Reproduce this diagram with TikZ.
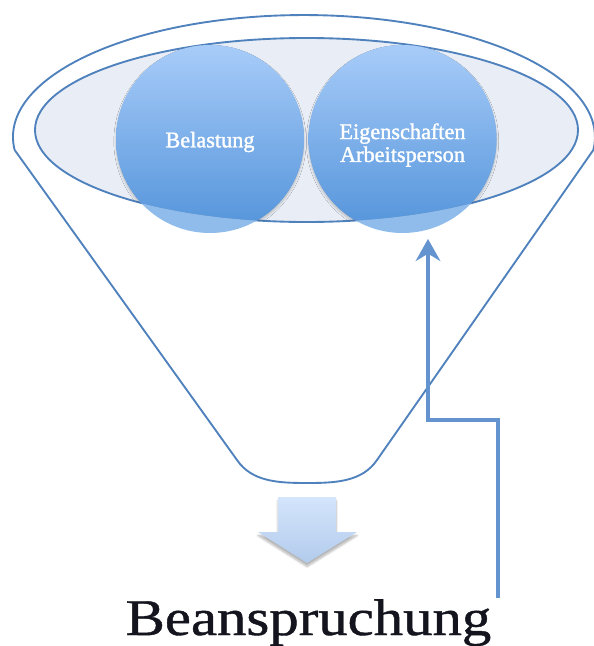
\documentclass[tikz,border=0pt]{standalone}
\usepackage{fontspec}
\setmainfont{Liberation Serif}
\newfontfamily\ballserif{Liberation Serif}[BoldFont={Liberation Serif}, BoldFeatures={FakeBold=1.5}]
\newfontfamily\resultserif{Liberation Serif}[BoldFont={Liberation Serif}, BoldFeatures={FakeBold=0.8}]
\usetikzlibrary{arrows.meta,shadows.blur}

\definecolor{funnelline}{RGB}{79,129,189}
\definecolor{rimfill}{RGB}{233,238,246}
\definecolor{ballTop}{RGB}{168,204,249}
\definecolor{ballBot}{RGB}{82,147,218}
\definecolor{ballOut}{RGB}{143,188,235}
\definecolor{arrowTop}{RGB}{212,229,252}
\definecolor{arrowBot}{RGB}{178,203,236}
\definecolor{fbline}{RGB}{100,148,207}
\definecolor{resultink}{RGB}{20,20,30}

\begin{document}
\begin{tikzpicture}[x=0.03cm,y=-0.03cm,
  funnel/.style={draw=funnelline, line width=1.6pt, line join=round},
  rim/.style={draw=funnelline, line width=1.6pt, fill=rimfill},
  ball/.style={top color=ballTop, bottom color=ballBot,
    blur shadow={shadow xshift=0pt, shadow yshift=-2pt, shadow blur steps=6, shadow opacity=22}},
  balltext/.style={text=white, font=\ballserif\bfseries\fontsize{19}{19.5}\selectfont, align=center, inner sep=0pt},
  downarrow/.style={top color=arrowTop, bottom color=arrowBot,
    blur shadow={shadow xshift=0pt, shadow yshift=-3pt, shadow blur steps=6, shadow opacity=30}},
  fb/.style={draw=fbline, line width=3.8pt, line join=miter,
    -{Stealth[length=0.66cm, width=0.74cm, inset=0.22cm]}},
  result/.style={text=resultink, font=\resultserif\bfseries\fontsize{44}{44}\selectfont, inner sep=0pt, anchor=base}]

\useasboundingbox (0,0) rectangle (594,646);

% funnel body: upper rim arc, tapering sides and rounded spout
\draw[funnel] (14.65,150)
  arc[start angle=173.9, end angle=366.1, x radius=291, y radius=122]
  -- (377,460) .. controls (362,482) and (335,483) .. (307,483)
  .. controls (279,483) and (252,482) .. (237,460) -- cycle;

% inner opening of the funnel
\filldraw[rim] (306.5,130) ellipse[x radius=271.5, y radius=92];

% the two balls: paler where they hang below the opening
\fill[ballOut] (210,139) circle[radius=94];
\fill[ballOut] (402.5,139) circle[radius=94];
\begin{scope}
  \clip (306.5,130) ellipse[x radius=271.5, y radius=92];
  \shade[ball] (210,139) circle[radius=94];
  \shade[ball] (402.5,139) circle[radius=94];
\end{scope}

\node[balltext] (bel) at (210,142) {Belastung};
\node[balltext] (eig) at (402.5,145) {Eigenschaften\\Arbeitsperson};

% output arrow below the spout
\shade[downarrow] (278,497) -- (336,497) -- (336,532) -- (357,532)
  -- (307,563) -- (258,532) -- (278,532) -- cycle;

\node[result] (bean) at (308.5,635) {\scalebox{1.14}[1]{Beanspruchung}};

% feedback from the result back to the person's properties
\coordinate (fbfoot) at (498,598);
\coordinate (fbtip) at (428,239);
\draw[fb] (fbfoot) -- (498,420) -| (fbtip);
\end{tikzpicture}
\end{document}
